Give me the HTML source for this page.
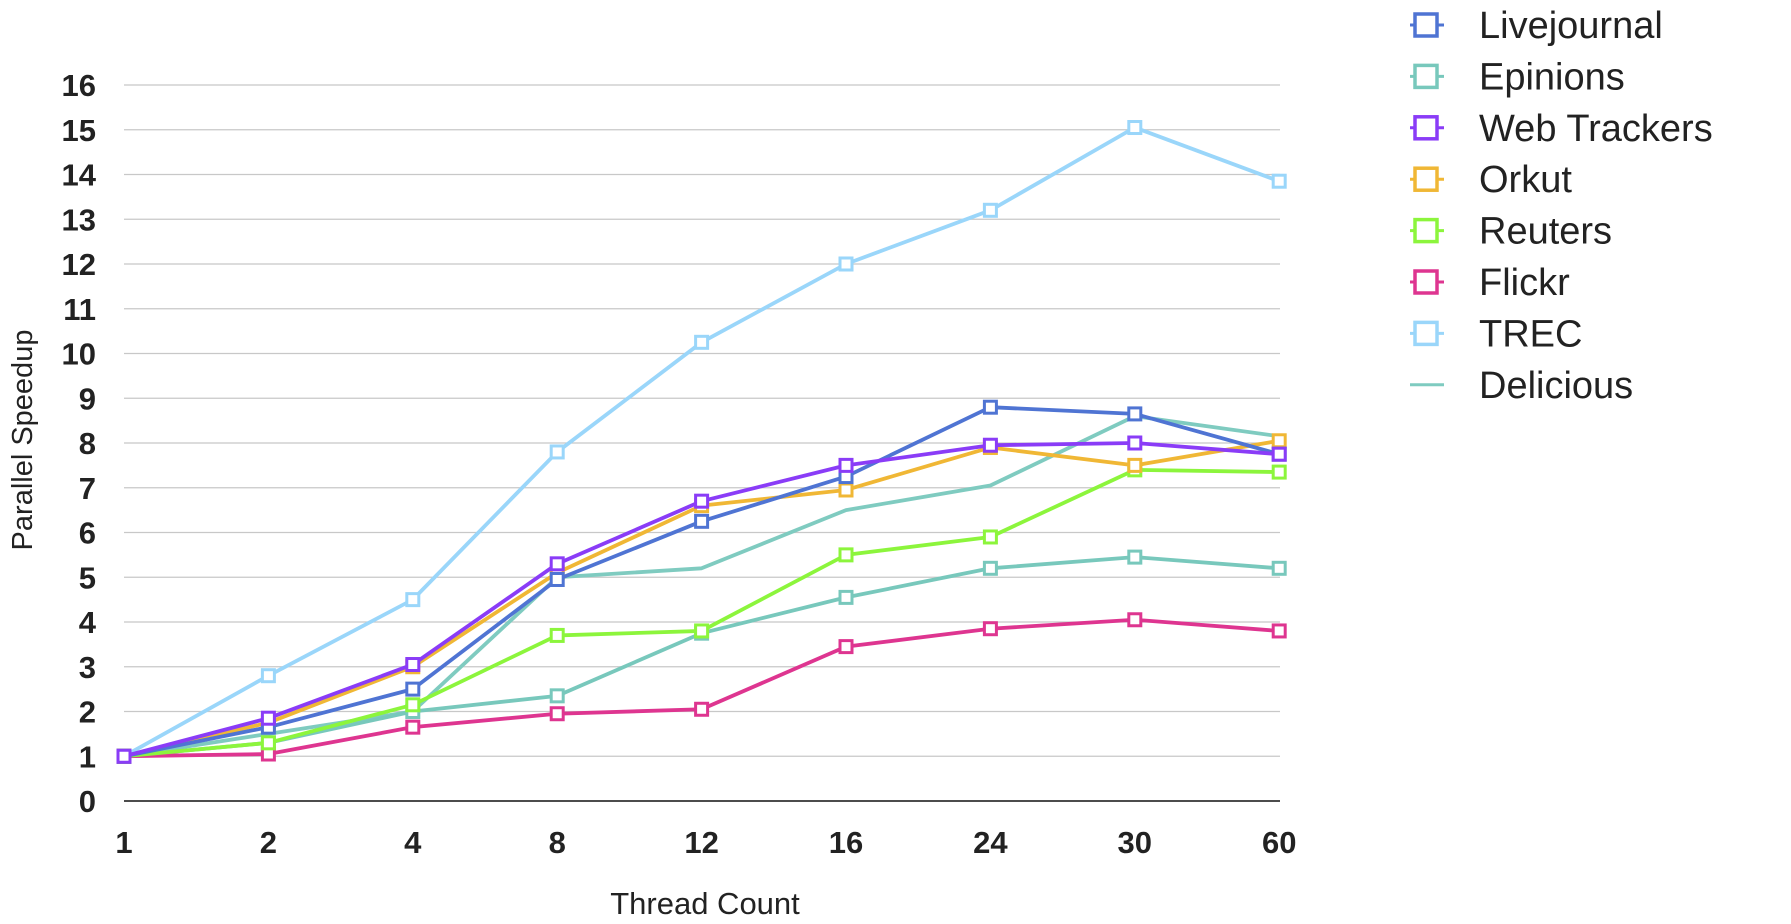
<!DOCTYPE html>
<html><head><meta charset="utf-8"><style>
body{margin:0;background:#fff;width:1791px;height:919px;overflow:hidden;font-family:"Liberation Sans",sans-serif;}
svg text{fill:#222;font-family:"Liberation Sans",sans-serif;}
</style></head><body>
<svg id="chart" width="1791" height="919" xmlns="http://www.w3.org/2000/svg"></svg>
<script>
const categories=["1","2","4","8","12","16","24","30","60"];
const yTicks=[0,1,2,3,4,5,6,7,8,9,10,11,12,13,14,15,16];
const seriesNames=["Livejournal","Epinions","Web Trackers","Orkut","Reuters","Flickr","TREC","Delicious"];
const livejournal=[1,1.65,2.5,4.95,6.25,7.25,8.8,8.65,7.75];
const epinions=[1,1.3,2.0,2.35,3.75,4.55,5.2,5.45,5.2];
const webTrackers=[1,1.85,3.05,5.3,6.7,7.5,7.95,8.0,7.75];
const orkut=[1,1.75,3.0,5.1,6.6,6.95,7.9,7.5,8.05];
const reuters=[1,1.3,2.15,3.7,3.8,5.5,5.9,7.4,7.35];
const flickr=[1,1.05,1.65,1.95,2.05,3.45,3.85,4.05,3.8];
const trec=[1,2.8,4.5,7.8,10.25,12.0,13.2,15.05,13.85];
const delicious=[1,1.5,2.0,5.0,5.2,6.5,7.05,8.6,8.15];
const allSeries=[livejournal,epinions,webTrackers,orkut,reuters,flickr,trec,delicious];
const colors=["#4f74d3","#78c8bc","#8a3cf7","#f0b735","#8cf53c","#de3590","#9ad6fa","#7fcbc0"];
const markers=[true,true,true,true,true,true,true,false];

const svg=document.getElementById('chart');
const NS="http://www.w3.org/2000/svg";
const x0=124,xStep=144.4,y0=801,yUnit=44.75,xEnd=1280;
const X=i=>x0+i*xStep;
const Y=v=>y0-v*yUnit;
function mk(tag,attrs,parent){const e=document.createElementNS(NS,tag);for(const k in attrs)e.setAttribute(k,attrs[k]);(parent||svg).appendChild(e);return e;}

yTicks.forEach(t=>{
  const l=mk('line',{x1:x0,x2:xEnd,y1:Y(t),y2:Y(t),stroke:t===0?'#111':'#c8c8c8','stroke-width':t===0?1.5:1.2});
  
  
  const tx=mk('text',{x:96,y:Y(t)+11,'text-anchor':'end','font-size':31,'font-weight':'bold'});
  tx.textContent=t;
  
  
});
categories.forEach((c,i)=>{
  const tx=mk('text',{x:X(i),y:853,'text-anchor':'middle','font-size':31,'font-weight':'bold'});
  tx.textContent=c;
  
  
});
const xt=mk('text',{x:705,y:914,'text-anchor':'middle','font-size':31});
xt.textContent="Thread Count";


const yt=mk('text',{x:0,y:0,'text-anchor':'middle','font-size':29,transform:'translate(32,440) rotate(-90)'});
yt.textContent="Parallel Speedup";



const order=[7,6,1,5,4,3,0,2];
order.forEach(s=>{
  const vals=allSeries[s];
  const g=mk('g',{});
  
  
  const p=mk('polyline',{points:vals.map((v,i)=>X(i)+','+Y(v)).join(' '),fill:'none',stroke:colors[s],'stroke-width':3.8,'stroke-linejoin':'round'},g);
  
  
  if(markers[s]) vals.forEach((v,i)=>{
    const r=mk('rect',{x:X(i)-6,y:Y(v)-6,width:12,height:12,fill:'#fff',stroke:colors[s],'stroke-width':3},g);
    
    
  });
});

seriesNames.forEach((n,s)=>{
  const ly=25+s*51.4;
  const g=mk('g',{});
  
  
  mk('line',{x1:1410,x2:1444,y1:ly,y2:ly,stroke:colors[s],'stroke-width':3},g);
  if(markers[s]) mk('rect',{x:1415,y:ly-11,width:22,height:22,fill:'#fff',stroke:colors[s],'stroke-width':3.5},g);
  const t=mk('text',{x:1479,y:ly+13,'font-size':38},g);
  t.textContent=n;
});
</script>
</body></html>
